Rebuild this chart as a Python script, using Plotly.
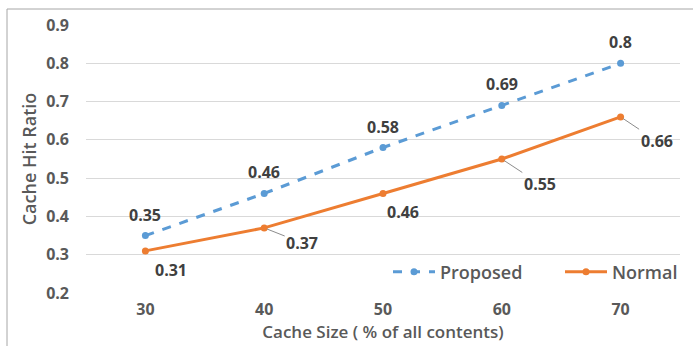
import plotly.graph_objects as go

# Cache hit ratio for each cache size
cache_sizes = ["30", "40", "50", "60", "70"]
proposed = [0.35, 0.46, 0.58, 0.69, 0.80]
normal = [0.31, 0.37, 0.46, 0.55, 0.66]
y_ticks = [0.2, 0.3, 0.4, 0.5, 0.6, 0.7, 0.8, 0.9]

BLUE = "#5B9BD5"
ORANGE = "#ED7D31"
TEXT = "#595959"
LABEL = "#404040"
FONT = "Open Sans"

W, H = 693, 346
ML, MR, MT, MB = 86, 13, 25, 53
PW, PH = W - ML - MR, H - MT - MB

fig = go.Figure()
fig.add_trace(go.Scatter(
    x=cache_sizes, y=proposed, name="Proposed", mode="lines+markers",
    line=dict(color=BLUE, width=3, dash="dash"),
    marker=dict(color=BLUE, size=7), legend="legend",
))
fig.add_trace(go.Scatter(
    x=cache_sizes, y=normal, name="Normal", mode="lines+markers",
    line=dict(color=ORANGE, width=3),
    marker=dict(color=ORANGE, size=7), legend="legend2",
))

label_font = dict(family=FONT, size=16, color=LABEL, weight="bold")
annotations = []
# Proposed values sit above their points (x given as category index)
for i, v in enumerate(proposed):
    annotations.append(dict(
        x=i, y=v, xref="x", yref="y", text=f"{v:g}", showarrow=False, yshift=21,
        font=label_font,
    ))
# Normal values sit below-right, some with leader lines
normal_offsets = [(26, 19, False), (38, 15, True), (20, 19, False), (38, 25, True), (36, 24, True)]
for i, (v, (dx, dy, lead)) in enumerate(zip(normal, normal_offsets)):
    annotations.append(dict(
        x=i, y=v, xref="x", yref="y", text=f"{v:g}", showarrow=True, arrowhead=0,
        arrowwidth=1, arrowcolor="#8c8c8c" if lead else "rgba(0,0,0,0)",
        ax=dx, ay=dy, standoff=3,
        font=label_font,
    ))

# Chart frame lines (top and left)
px_x = lambda p: (p - ML) / PW
px_y = lambda p: 1 - (p - MT) / PH
shapes = [
    dict(type="line", xref="paper", yref="paper", x0=px_x(7), x1=px_x(W), y0=px_y(9), y1=px_y(9),
         line=dict(color="#a6a6a6", width=1)),
    dict(type="line", xref="paper", yref="paper", x0=px_x(7), x1=px_x(7), y0=px_y(9), y1=px_y(H),
         line=dict(color="#a6a6a6", width=1)),
]

legend_style = dict(
    orientation="h", y=px_y(272), yanchor="middle",
    bgcolor="rgba(255,255,255,0)",
    font=dict(family=FONT, size=18, color=TEXT, weight=600),
    itemwidth=42,
)

fig.update_layout(
    width=W, height=H,
    margin=dict(l=ML, r=MR, t=MT, b=MB, autoexpand=False),
    paper_bgcolor="white", plot_bgcolor="white",
    font=dict(family=FONT, color=TEXT, size=13),
    showlegend=True,
    legend=dict(x=px_x(388), xanchor="left", **legend_style),
    legend2=dict(x=px_x(683), xanchor="right", **legend_style),
    annotations=annotations,
    shapes=shapes,
    xaxis=dict(
        type="category", range=[-0.5, 4.5],
        showgrid=False, zeroline=False, showline=False, ticks="",
        tickfont=dict(family=FONT, size=16, color=TEXT, weight="bold"),
        ticklabelstandoff=5,
        title=dict(text="Cache Size ( % of all contents)", standoff=7,
                   font=dict(family=FONT, size=17, color=TEXT, weight=600)),
    ),
    yaxis=dict(
        range=[0.2, 0.9], tickvals=y_ticks, tickformat=".1f",
        showgrid=True, gridcolor="#d9d9d9", gridwidth=1, zeroline=False, showline=False, ticks="",
        tickfont=dict(family=FONT, size=16, color=TEXT, weight="bold"),
        ticklabelstandoff=16,
        title=dict(text="Cache Hit Ratio", standoff=4,
                   font=dict(family=FONT, size=18, color=TEXT, weight=600)),
    ),
)

fig.write_html("out.html")
